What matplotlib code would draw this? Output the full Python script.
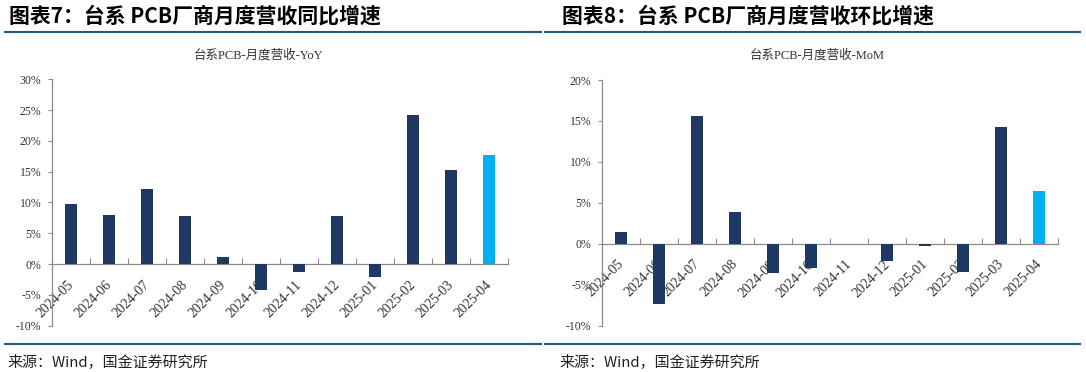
import numpy as np
import matplotlib
matplotlib.use('Agg')
import matplotlib.pyplot as plt
from matplotlib.lines import Line2D
from matplotlib.ticker import FuncFormatter, FixedLocator
import matplotlib.transforms as mtransforms

# Data (percent)
months = ['2024-05', '2024-06', '2024-07', '2024-08', '2024-09', '2024-10',
          '2024-11', '2024-12', '2025-01', '2025-02', '2025-03', '2025-04']
yoy = [9.8, 7.9, 12.2, 7.8, 1.1, -4.2, -1.3, 7.8, -2.1, 24.2, 15.2, 17.7]
mom = [1.5, -7.4, 15.6, 3.9, -3.6, -3.0, -0.05, -2.1, -0.3, -3.5, 14.3, 6.5]

navy = '#1F3864'
light = '#00B0F0'
line_col = '#1F5A7E'
spine_col = '#8C8C8C'

serif = ['Liberation Serif', 'Noto Sans CJK SC']
cjk = ['Noto Sans CJK SC', 'DejaVu Sans']

fig = plt.figure(figsize=(10.86, 3.72), dpi=100)


def draw_panel(rect, values, ylim, yticks, subtitle, sub_x):
    ax = fig.add_axes(rect)
    x = np.arange(len(months))
    colors = [navy] * (len(values) - 1) + [light]
    ax.bar(x, values, width=0.32, color=colors, zorder=3)
    ax.set_xlim(-0.5, len(months) - 0.5)
    ax.set_ylim(*ylim)
    ax.set_yticks(yticks)
    ax.yaxis.set_major_formatter(FuncFormatter(lambda v, p: '%d%%' % v))

    for s in ['top', 'right']:
        ax.spines[s].set_visible(False)
    ax.spines['bottom'].set_position(('data', 0))
    ax.spines['bottom'].set_color(spine_col)
    ax.spines['left'].set_color(spine_col)
    ax.spines['bottom'].set_linewidth(0.9)
    ax.spines['left'].set_linewidth(0.9)

    # labels at category centres, tick marks on the category boundaries
    ax.set_xticks(x)
    ax.set_xticklabels(months, rotation=45, ha='right', family=serif,
                       fontsize=10, color='#333333')
    ax.tick_params(axis='x', which='major', length=0, pad=10)
    ax.xaxis.set_minor_locator(FixedLocator(np.arange(-0.5, len(months), 1.0)))
    ax.tick_params(axis='x', which='minor', direction='in', length=4,
                   color=spine_col, width=0.8)
    offset = mtransforms.ScaledTranslation(5 / 100, 0, fig.dpi_scale_trans)
    for lab in ax.get_xticklabels():
        lab.set_transform(lab.get_transform() + offset)

    ax.tick_params(axis='y', direction='out', length=3, color=spine_col,
                   width=0.8, pad=5, labelsize=8.5, labelcolor='#333333')
    for lab in ax.get_yticklabels():
        lab.set_family(serif)

    fig.text(sub_x, 0.852, subtitle, ha='center', va='center',
             fontsize=9, family=serif, color='#333333')
    return ax


draw_panel([0.0482, 0.1245, 0.4199, 0.6624], yoy, (-10, 30),
           [-10, -5, 0, 5, 10, 15, 20, 25, 30], '台系PCB-月度营收-YoY', 0.2376)
draw_panel([0.5546, 0.1245, 0.4199, 0.6604], mom, (-10, 20),
           [-10, -5, 0, 5, 10, 15, 20], '台系PCB-月度营收-MoM', 0.7523)

# headings
fig.text(9 / 1086, 0.957, '图表7：台系 PCB厂商月度营收同比增速', ha='left', va='center',
         fontsize=15, fontweight='bold', family=cjk, color='black')
fig.text(562 / 1086, 0.957, '图表8：台系 PCB厂商月度营收环比增速', ha='left', va='center',
         fontsize=15, fontweight='bold', family=cjk, color='black')

# rules under the headings and above the source
for y in [1 - 32.3 / 372, 1 - 344 / 372]:
    fig.add_artist(Line2D([5 / 1086, 541 / 1086], [y, y], color=line_col, lw=1.5))
    fig.add_artist(Line2D([545 / 1086, 1080 / 1086], [y, y], color=line_col, lw=1.5))

# source notes
fig.text(7 / 1086, 1 - 361.5 / 372, '来源：Wind，国金证券研究所', ha='left', va='center',
         fontsize=10.8, family=cjk, color='#222222')
fig.text(559 / 1086, 1 - 361.5 / 372, '来源：Wind，国金证券研究所', ha='left', va='center',
         fontsize=10.8, family=cjk, color='#222222')

fig.savefig('out.png', dpi=100)
